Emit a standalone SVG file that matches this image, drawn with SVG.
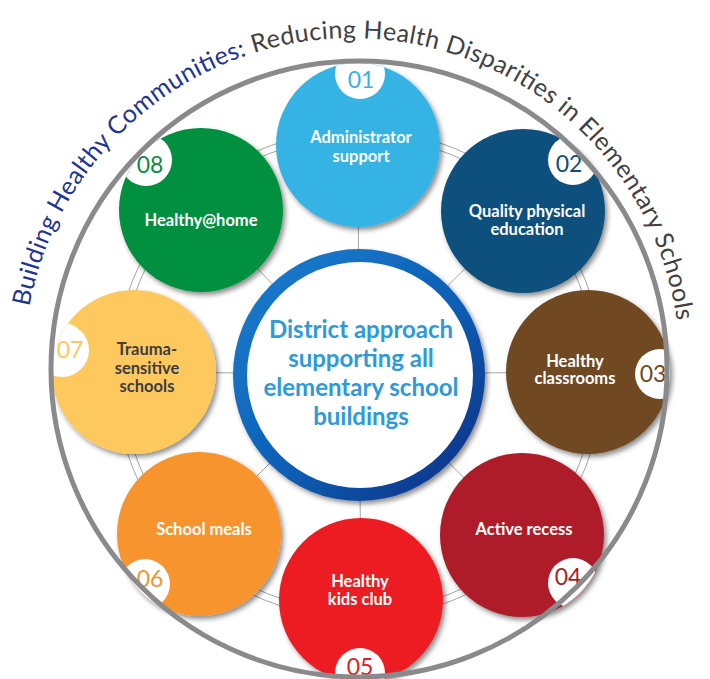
<svg xmlns="http://www.w3.org/2000/svg" width="710" height="679" viewBox="0 0 710 679">
<style>
.lbl{font-family:Lato,"Open Sans","Liberation Sans",sans-serif;font-weight:700;font-size:16.5px;fill:#fff;text-anchor:middle}
.dark{fill:#3d3d3f}
.num{font-family:Lato,"Open Sans","Liberation Sans",sans-serif;font-weight:400;font-size:23px;text-anchor:middle}
.ctr{font-family:Lato,"Open Sans","Liberation Sans",sans-serif;font-weight:700;font-size:24px;fill:#2e9ad9;text-anchor:middle}
.title{font-family:Lato,"Open Sans","Liberation Sans",sans-serif;font-size:25px}
.notch{fill:#fff}
.link{stroke:#9a9a9a;stroke-width:0.9;fill:none}
</style>
<defs>
<filter id="sh" x="-20%" y="-20%" width="140%" height="140%">
<feDropShadow dx="2.5" dy="3" stdDeviation="2.5" flood-color="#000" flood-opacity="0.45"/>
</filter>
<linearGradient id="ringGrad" x1="0" y1="0" x2="1" y2="1">
<stop offset="0" stop-color="#1a7fd0"/>
<stop offset="0.55" stop-color="#0d5fb5"/>
<stop offset="1" stop-color="#0b2a7e"/>
</linearGradient>
<clipPath id="c1"><circle cx="358" cy="145" r="82"/></clipPath>
<clipPath id="c2"><circle cx="523" cy="211" r="82"/></clipPath>
<clipPath id="c3"><circle cx="588" cy="372" r="82"/></clipPath>
<clipPath id="c4"><circle cx="522" cy="535" r="82"/></clipPath>
<clipPath id="c5"><circle cx="361" cy="600" r="82"/></clipPath>
<clipPath id="c6"><circle cx="199" cy="534" r="82"/></clipPath>
<clipPath id="c7"><circle cx="134" cy="372" r="82"/></clipPath>
<clipPath id="c8"><circle cx="201" cy="210" r="82"/></clipPath>
<path id="titleArc" d="M 29.4 306.8 A 328 328 0 0 1 677.1 322.6"/>
</defs>

<rect width="710" height="679" fill="#fff"/>

<g id="connectors">
<circle cx="359" cy="374" r="238" class="link"/>
<circle cx="359" cy="374" r="245" class="link" stroke="#bdbdbd"/>
<line x1="359" y1="374" x2="358" y2="145" class="link"/>
<line x1="359" y1="374" x2="523" y2="211" class="link"/>
<line x1="359" y1="374" x2="588" y2="372" class="link"/>
<line x1="359" y1="374" x2="522" y2="535" class="link"/>
<line x1="359" y1="374" x2="361" y2="600" class="link"/>
<line x1="359" y1="374" x2="199" y2="534" class="link"/>
<line x1="359" y1="374" x2="134" y2="372" class="link"/>
<line x1="359" y1="374" x2="201" y2="210" class="link"/>
</g>

<g id="node-01">
<g filter="url(#sh)"><circle cx="358" cy="145" r="82" fill="#36b3e4"/></g>
<circle cx="360" cy="74" r="25" class="notch" clip-path="url(#c1)"/>
<text x="361" y="88" class="num" fill="#39b1e3">01</text>
<text x="361" y="143" class="lbl">Administrator</text>
<text x="361" y="162" class="lbl">support</text>
</g>

<g id="node-02">
<g filter="url(#sh)"><circle cx="523" cy="211" r="82" fill="#0b4f7d"/></g>
<circle cx="573" cy="160" r="25" class="notch" clip-path="url(#c2)"/>
<text x="569" y="172" class="num" fill="#0b4f7c">02</text>
<text x="527" y="217" class="lbl">Quality physical</text>
<text x="527" y="235" class="lbl">education</text>
</g>

<g id="node-03">
<g filter="url(#sh)"><circle cx="588" cy="372" r="82" fill="#6f4a24"/></g>
<circle cx="660" cy="374" r="25" class="notch" clip-path="url(#c3)"/>
<text x="653" y="382" class="num" fill="#6f4a22">03</text>
<text x="575" y="367" class="lbl">Healthy</text>
<text x="575" y="384" class="lbl">classrooms</text>
</g>

<g id="node-04">
<g filter="url(#sh)"><circle cx="522" cy="535" r="82" fill="#ae1f2a"/></g>
<circle cx="573" cy="583" r="25" class="notch" clip-path="url(#c4)"/>
<text x="568" y="585" class="num" fill="#a51f2a">04</text>
<text x="524" y="535" class="lbl">Active recess</text>
</g>

<g id="node-05">
<g filter="url(#sh)"><circle cx="361" cy="600" r="82" fill="#ec1c24"/></g>
<circle cx="360" cy="673" r="25" class="notch" clip-path="url(#c5)"/>
<text x="360" y="675" class="num" fill="#e21c25">05</text>
<text x="360" y="587" class="lbl">Healthy</text>
<text x="360" y="605" class="lbl">kids club</text>
</g>

<g id="node-06">
<g filter="url(#sh)"><circle cx="199" cy="534" r="82" fill="#f7942f"/></g>
<circle cx="145" cy="584" r="25" class="notch" clip-path="url(#c6)"/>
<text x="150" y="587" class="num" fill="#f7932f">06</text>
<text x="204" y="535" class="lbl">School meals</text>
</g>

<g id="node-07">
<g filter="url(#sh)"><circle cx="134" cy="372" r="82" fill="#fdc95e"/></g>
<circle cx="62" cy="350" r="27" class="notch" clip-path="url(#c7)"/>
<text x="70" y="358" class="num" fill="#fdc95c">07</text>
<text x="147" y="355" class="lbl dark">Trauma-</text>
<text x="147" y="374" class="lbl dark">sensitive</text>
<text x="147" y="392" class="lbl dark">schools</text>
</g>

<g id="node-08">
<g filter="url(#sh)"><circle cx="201" cy="210" r="82" fill="#05903f"/></g>
<circle cx="146" cy="160" r="26" class="notch" clip-path="url(#c8)"/>
<text x="150" y="173" class="num" fill="#0b8e3f">08</text>
<text x="201" y="226" class="lbl">Healthy@home</text>
</g>

<g id="center">
<g filter="url(#sh)"><circle cx="359" cy="375" r="126" fill="url(#ringGrad)"/></g>
<circle cx="360" cy="375" r="113" fill="#fff"/>
<text x="361" y="338" class="ctr">District approach</text>
<text x="361" y="367" class="ctr">supporting all</text>
<text x="361" y="396" class="ctr">elementary school</text>
<text x="361" y="425" class="ctr">buildings</text>
</g>

<g id="outer-ring">
<circle cx="359" cy="369" r="308" fill="none" stroke="#8a8a8d" stroke-width="5"/>
</g>

<g id="title">
<text class="title"><textPath href="#titleArc" textLength="925" lengthAdjust="spacing"><tspan fill="#1f3591">Building Healthy Communities:</tspan><tspan fill="#414143"> Reducing Health Disparities in Elementary Schools</tspan></textPath></text>
</g>
</svg>
